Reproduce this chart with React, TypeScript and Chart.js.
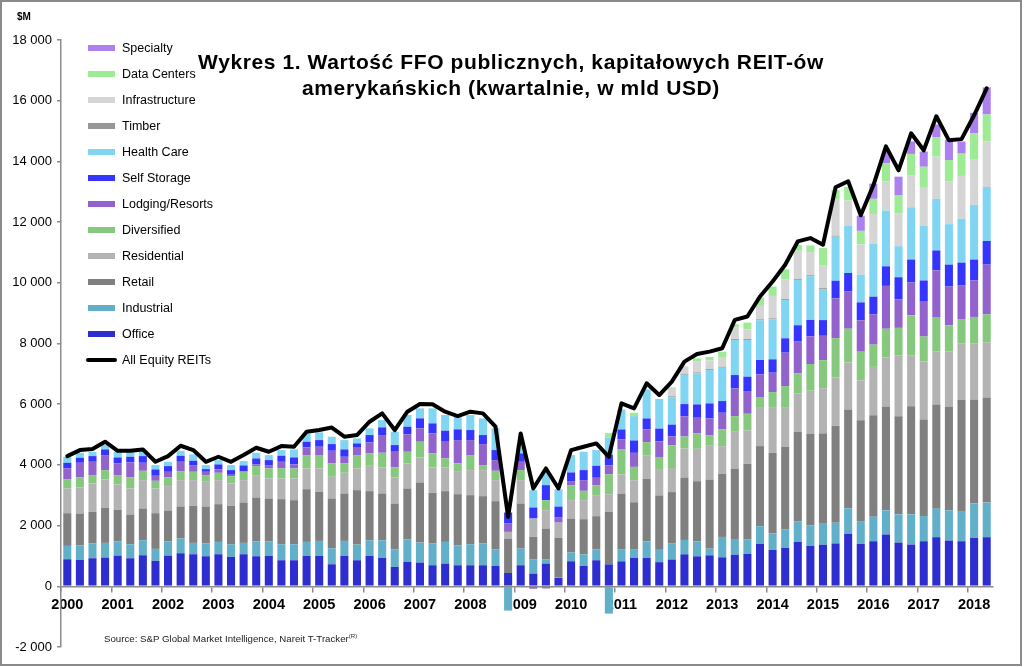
import React, { useEffect, useRef } from 'react';
import { Chart, registerables } from 'chart.js';

Chart.register(...registerables);

const FONT = "'Liberation Sans', Arial, Helvetica, sans-serif";

const yearLabels = ['2000','2001','2002','2003','2004','2005','2006','2007','2008','2009','2010','2011','2012','2013','2014','2015','2016','2017','2018'];
const quarterNames = ['Q1', 'Q2', 'Q3', 'Q4'];
const categories: string[] = [];
yearLabels.forEach((y) => quarterNames.forEach((q) => categories.push(`${y} ${q}`)));
categories.length = 74; // 2000 Q1 .. 2018 Q2

const office = [
  891, 869, 924, 946, 1012, 924, 1023, 836, 1012, 1089, 1056, 990,
  1056, 968, 1056, 990, 1001, 858, 858, 1001, 1001, 726, 1001, 858,
  1001, 935, 638, 803, 781, 693, 748, 693, 693, 693, 671, 440,
  693, 418, 748, 275, 825, 671, 858, 722, 822, 932, 932, 795,
  882, 1054, 988, 1020, 955, 1042, 1065, 1396, 1197, 1263, 1462, 1330,
  1368, 1412, 1730, 1397, 1485, 1707, 1441, 1374, 1485, 1618, 1507, 1485,
  1596, 1618,
];
const industrial = [
  440, 484, 484, 484, 473, 462, 495, 396, 473, 484, 374, 418,
  407, 418, 374, 484, 473, 528, 528, 462, 495, 528, 495, 517,
  517, 583, 572, 737, 660, 715, 715, 660, 693, 715, 539, -800,
  550, 462, 132, 30, 286, 385, 352, -900, 385, 275, 550, 407,
  539, 473, 495, 220, 671, 517, 473, 583, 550, 605, 682, 682,
  693, 682, 841, 752, 808, 797, 930, 997, 830, 941, 997, 974,
  1129, 1140,
];
const retail = [
  1078, 1045, 1045, 1155, 1034, 979, 1045, 1177, 1012, 1056, 1221, 1221,
  1243, 1265, 1331, 1452, 1419, 1485, 1452, 1738, 1617, 1639, 1562, 1793,
  1617, 1540, 1518, 1683, 1980, 1672, 1672, 1683, 1617, 1562, 1595, 1133,
  1485, 748, 1023, 1298, 1122, 1155, 1100, 1738, 1848, 1562, 2057, 1793,
  1683, 2057, 1980, 2277, 2079, 2321, 2497, 2640, 2651, 2728, 2948, 3003,
  2970, 3190, 3255, 3321, 3343, 3409, 3232, 3564, 3178, 3432, 3409, 3676,
  3432, 3465,
];
const residential = [
  814, 858, 935, 935, 836, 858, 935, 814, 803, 869, 847, 836,
  792, 737, 737, 715, 660, 682, 715, 682, 770, 715, 682, 715,
  836, 858, 858, 825, 825, 836, 781, 737, 825, 858, 693, 220,
  770, 605, 605, 495, 605, 627, 693, 572, 627, 726, 781, 869,
  792, 957, 1067, 1133, 913, 1210, 1100, 1287, 1507, 1309, 1265, 1430,
  1496, 1595, 1549, 1315, 1594, 1628, 2000, 1662, 1915, 1750, 1828, 1873,
  1851, 1818,
];
const diversified = [
  308, 330, 275, 308, 308, 363, 308, 253, 286, 297, 275, 198,
  242, 242, 275, 319, 330, 330, 330, 440, 440, 440, 308, 440,
  407, 484, 330, 385, 517, 462, 297, 275, 495, 165, 308, 0,
  330, 0, 330, 0, 495, 308, 330, 660, 825, 440, 429, 396,
  748, 396, 506, 330, 550, 517, 550, 330, 495, 693, 660, 880,
  924, 1298, 1112, 945, 734, 945, 912, 1334, 822, 1112, 856, 800,
  867, 923,
];
const lodging = [
  352, 484, 440, 495, 385, 495, 264, 165, 187, 308, 220, 110,
  110, 44, 22, 55, 110, 220, 132, 253, 275, 418, 220, 242,
  363, 583, 517, 572, 440, 660, 550, 770, 495, 693, 352, 275,
  275, -80, -70, 165, 132, 352, 242, 297, 330, 462, 418, 517,
  297, 660, 517, 550, 550, 913, 748, 748, 638, 1100, 1045, 913,
  803, 1309, 1223, 1034, 1001, 1412, 945, 1079, 1146, 1557, 1279, 1100,
  1201, 1635,
];
const selfStorage = [
  187, 165, 187, 187, 198, 187, 220, 209, 187, 198, 143, 88,
  165, 154, 187, 198, 165, 198, 231, 187, 220, 220, 242, 143,
  242, 253, 220, 253, 330, 330, 363, 352, 330, 297, 330, 363,
  275, 363, 495, 363, 286, 330, 396, 341, 330, 407, 363, 418,
  385, 407, 440, 495, 385, 440, 473, 473, 440, 473, 539, 539,
  517, 583, 612, 590, 578, 645, 723, 756, 700, 656, 723, 756,
  690, 778,
];
const healthCare = [
  198, 165, 143, 143, 187, 165, 143, 143, 143, 165, 209, 132,
  143, 165, 143, 187, 165, 187, 264, 275, 253, 242, 308, 165,
  220, 242, 440, 385, 330, 495, 517, 418, 495, 550, 715, 0,
  300, 572, 450, 572, 572, 605, 517, 572, 660, 803, 957, 979,
  902, 968, 1023, 1100, 1100, 1155, 1210, 1309, 1320, 1265, 1496, 1441,
  1023, 1452, 1557, 911, 1745, 1835, 1023, 1723, 1802, 1701, 1334, 1446,
  1801, 1780,
];
const timber = [
  0, 0, 0, 0, 0, 0, 0, 0, 0, 0, 0, 0,
  0, 0, 0, 0, 0, 0, 0, 0, 0, 0, 0, 0,
  0, 0, 0, 0, 0, 0, 0, 0, 0, 0, 0, 0,
  0, 0, 0, 0, 0, 0, 0, 0, 0, 0, 0, 0,
  30, 30, 30, 30, 30, 30, 30, 30, 30, 30, 30, 30,
  30, 30, 0, 0, 0, 0, 0, 0, 0, 0, 0, 0,
  0, 0,
];
const infrastructure = [
  0, 0, 0, 0, 0, 0, 0, 0, 0, 0, 0, 0,
  0, 0, 0, 0, 0, 0, 0, 0, 0, 0, 0, 0,
  0, 0, 0, 0, 0, 0, 0, 0, 0, 0, 0, 0,
  0, 0, 0, 0, 0, 0, 0, 0, 0, 0, 0, 0,
  300, 245, 355, 289, 300, 377, 322, 443, 740, 652, 927, 762,
  740, 1213, 834, 1001, 979, 968, 1090, 1057, 1279, 1390, 1413, 1412,
  1512, 1501,
];
const dataCenters = [
  0, 0, 0, 0, 0, 0, 0, 0, 0, 0, 0, 0,
  0, 0, 0, 0, 0, 0, 0, 0, 0, 0, 0, 0,
  0, 0, 0, 0, 0, 0, 0, -60, 0, 0, 0, 0,
  0, 0, 0, 0, 0, 0, 0, 143, 0, 110, 0, 0,
  0, 0, 110, 110, 198, 110, 220, 275, 308, 330, 198, 220,
  583, 297, 445, 445, 500, 589, 578, 700, 667, 634, 700, 734,
  857, 889,
];
const specialty = [
  0, 0, 0, 0, 0, 0, 0, 0, 0, 0, 0, 0,
  0, 0, 0, 0, 0, 0, 0, 0, 0, 0, 0, 0,
  0, 0, 0, 0, 0, 0, 0, 0, 0, 0, 0, 0,
  0, 0, 0, 0, 0, 0, 0, 0, 0, 0, 0, 0,
  0, 0, 0, 0, 0, 0, 0, 0, 0, 0, 0, 0,
  0, 0, 0, 500, 501, 389, 623, 412, 500, 423, 667, 400,
  667, 890,
];
const allEquityREITs = [
  4290, 4488, 4521, 4763, 4466, 4466, 4510, 4103, 4290, 4631, 4488, 4103,
  4268, 4103, 4323, 4565, 4433, 4620, 4598, 5093, 5150, 5230, 4928, 4983,
  5423, 5698, 5148, 5753, 6006, 5995, 5753, 5610, 5753, 5698, 5258, 2288,
  5038, 3223, 3883, 3223, 4488, 4598, 4708, 4268, 6028, 5863, 6688, 6303,
  6743, 7403, 7656, 7733, 7843, 8778, 8888, 9548, 10043, 10593, 11363, 11473,
  11253, 13146, 13344, 12224, 13212, 14497, 13707, 14926, 14366, 15486, 14695, 14734,
  15519, 16408,
];

const seriesNames = ['Office', 'Industrial', 'Retail', 'Residential', 'Diversified', 'Lodging/Resorts', 'Self Storage', 'Health Care', 'Timber', 'Infrastructure', 'Data Centers', 'Specialty'];
const seriesColors = ['#2E2ED0', '#62AFC9', '#808080', '#B3B3B3', '#86C97E', '#9263CC', '#3535FF', '#80D6F2', '#979797', '#D5D5D5', '#9DEB95', '#AD80F0'];
const seriesValues = [office, industrial, retail, residential, diversified, lodging, selfStorage, healthCare, timber, infrastructure, dataCenters, specialty];
const lineName = 'All Equity REITs';
const yTicks = [-2000, 0, 2000, 4000, 6000, 8000, 10000, 12000, 14000, 16000, 18000];

const fmt = (v: number) => {
  const s = String(Math.abs(v)).replace(/\B(?=(\d{3})+(?!\d))/g, ' ');
  return v < 0 ? '-' + s : s;
};

export default function App() {
  const ref = useRef<HTMLCanvasElement>(null);

  useEffect(() => {
    document.body.style.margin = '0';
    document.body.style.background = '#fff';
    const canvas = ref.current;
    if (!canvas) return;
    const chart = new Chart(canvas, {
      type: 'bar',
      data: {
        labels: categories,
        datasets: [
          {
            type: 'line',
            label: lineName,
            data: allEquityREITs,
            borderColor: '#000',
            backgroundColor: '#000',
            borderWidth: 4,
            pointRadius: 0,
            pointHoverRadius: 0,
            tension: 0,
            borderJoinStyle: 'round',
            borderCapStyle: 'round',
            order: 0,
          } as any,
          ...seriesNames.map((name, k) => ({
            type: 'bar',
            label: name,
            data: seriesValues[k],
            backgroundColor: seriesColors[k],
            borderWidth: 0,
            barPercentage: 0.64,
            categoryPercentage: 1,
            order: 1,
          } as any)),
        ],
      },
      options: {
        responsive: false,
        animation: false,
        devicePixelRatio: 1,
        layout: { padding: { left: 0, right: 31, top: 40, bottom: 20 } },
        plugins: {
          legend: { display: false },
          tooltip: { enabled: false },
          title: { display: false },
        },
        scales: {
          x: {
            stacked: true,
            position: { y: 0 } as any,
            grid: {
              drawOnChartArea: false,
              drawTicks: true,
              tickLength: 5,
              lineWidth: 1.5,
              color: (ctx: any) => (ctx.index % 4 === 0 ? '#8c8c8c' : 'rgba(0,0,0,0)'),
            },
            border: { color: '#8c8c8c', width: 1.5 },
            ticks: {
              autoSkip: false,
              maxRotation: 0,
              minRotation: 0,
              padding: 5,
              color: '#000',
              font: { family: FONT, size: 14.5, weight: 'bold' },
              callback: (_v: any, i: number) => (i % 4 === 0 ? yearLabels[i / 4] : ''),
            },
          },
          y: {
            stacked: true,
            min: -2000,
            max: 18000,
            afterFit: (s: any) => { s.width = 61; },
            afterBuildTicks: (s: any) => { s.ticks = yTicks.map((v) => ({ value: v })); },
            grid: { drawOnChartArea: false, drawTicks: true, tickLength: 4, color: '#8c8c8c', lineWidth: 1.5 },
            border: { color: '#8c8c8c', width: 1.5 },
            ticks: {
              padding: 5,
              color: '#000',
              font: { family: FONT, size: 13 },
              callback: (v: any) => fmt(Number(v)),
            },
          },
        },
      },
    });
    return () => chart.destroy();
  }, []);

  const legendRows = [...seriesNames.map((n, k) => k)].reverse();

  return (
    <div style={{ position: 'relative', width: 1024, height: 667, background: '#fff', overflow: 'hidden', fontFamily: FONT }}>
      <canvas ref={ref} width={1024} height={667} style={{ position: 'absolute', left: 0, top: 0, width: 1024, height: 667 }} />
      <div style={{ position: 'absolute', left: 0, top: 0, width: 1022, height: 666, border: '2px solid #8a8a8a', boxSizing: 'border-box', pointerEvents: 'none' }} />
      <div style={{ position: 'absolute', left: 17, top: 11, fontSize: 10, fontWeight: 'bold', color: '#000' }}>$M</div>
      <div style={{ position: 'absolute', left: 0, top: 49, width: 1022, textAlign: 'center', fontSize: 21, fontWeight: 'bold', lineHeight: '26px', letterSpacing: 0.6, color: '#000' }}>
        <div>Wykres 1. Wartość FFO publicznych, kapitałowych REIT-ów</div>
        <div>amerykańskich (kwartalnie, w mld USD)</div>
      </div>
      {legendRows.map((k, r) => (
        <div key={k} style={{ position: 'absolute', left: 88, top: 48 + 26 * r - 8, height: 16, display: 'flex', alignItems: 'center', fontSize: 12.5, color: '#000', whiteSpace: 'nowrap' }}>
          <span style={{ display: 'inline-block', width: 27, height: 6, background: seriesColors[k], marginRight: 7 }} />
          <span>{seriesNames[k]}</span>
        </div>
      ))}
      <div style={{ position: 'absolute', left: 86, top: 48 + 26 * 12 - 8, height: 16, display: 'flex', alignItems: 'center', fontSize: 12.5, color: '#000', whiteSpace: 'nowrap' }}>
        <span style={{ display: 'inline-block', width: 31, height: 4, background: '#000', borderRadius: 2, marginRight: 5 }} />
        <span>{lineName}</span>
      </div>
      <div style={{ position: 'absolute', left: 104, top: 633, fontSize: 9.7, color: '#222', whiteSpace: 'nowrap' }}>
        Source: S&amp;P Global Market Intelligence, Nareit T-Tracker<sup style={{ fontSize: 6 }}>(R)</sup>
      </div>
    </div>
  );
}
